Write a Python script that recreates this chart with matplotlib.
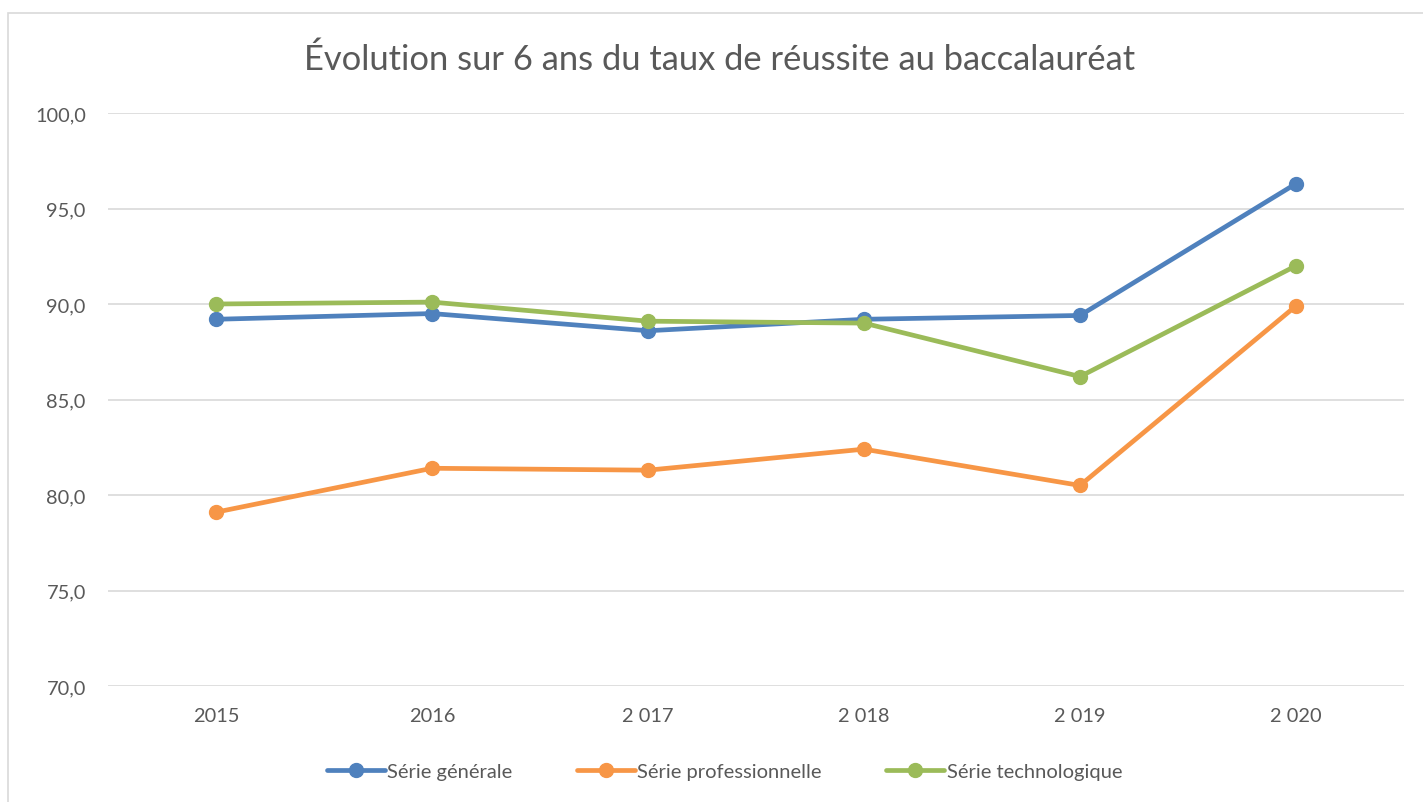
import matplotlib
matplotlib.use('Agg')
import matplotlib.pyplot as plt
from matplotlib.patches import Rectangle

years=['2015','2016','2 017','2 018','2 019','2 020']
generale=[89.2,89.5,88.6,89.2,89.4,96.3]
pro=[79.1,81.4,81.3,82.4,80.5,89.9]
techno=[90.0,90.1,89.1,89.0,86.2,92.0]
yticks=[70,75,80,85,90,95,100]

plt.rcParams['font.family']=['Lato','DejaVu Sans']
grey='#595959'

fig=plt.figure(figsize=(14.23,8.03),dpi=100)
fig.patches.append(Rectangle((8/1423,-0.1),1.2,1.1-14/803,transform=fig.transFigure,fill=False,edgecolor='#d9d9d9',linewidth=1.2))
ax=fig.add_axes([108/1423,116/803,(1404-108)/1423,(687-114)/803])

x=range(len(years))
series=[(generale,'#4f81bd','Série générale'),(pro,'#f79646','Série professionnelle'),(techno,'#9bbb59','Série technologique')]
for vals,col,lab in series:
  ax.plot(x,vals,color=col,linewidth=3.4,marker='o',markersize=10,label=lab,solid_capstyle='round')

ax.set_xlim(-0.5,5.5)
ax.set_ylim(70,100)
ax.set_yticks(yticks)
ax.set_yticklabels(['{:.1f}'.format(v).replace('.',',') for v in yticks])
ax.set_xticks(list(x))
ax.set_xticklabels(years)
ax.grid(axis='y',color='#d9d9d9',linewidth=1.2)
ax.set_axisbelow(True)
for s in ax.spines.values():
  s.set_visible(False)
ax.tick_params(axis='both',length=0,labelsize=14.4,colors=grey)
ax.tick_params(axis='x',pad=15)
ax.tick_params(axis='y',pad=16)

fig.text(0.506,1-60/803,'Évolution sur 6 ans du taux de réussite au baccalauréat',ha='center',va='center',fontsize=24.8,color=grey)
fig.legend(loc='center',bbox_to_anchor=(0.509,1-772/803),ncol=3,frameon=False,fontsize=14.5,labelcolor=grey,handlelength=2.9,handletextpad=0.1,columnspacing=3.2)

fig.savefig('out.png',dpi=100)
